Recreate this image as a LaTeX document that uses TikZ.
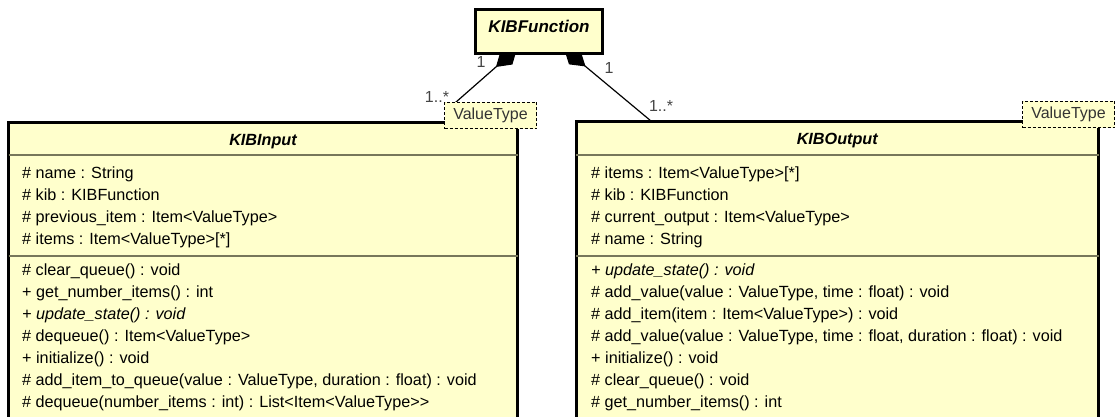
\documentclass[tikz,border=0pt]{standalone}
\usepackage{fontspec}
\setmainfont{Liberation Sans}
\usetikzlibrary{arrows.meta,calc}
\definecolor{clsfill}{HTML}{FFFFCC}
\definecolor{sepcol}{HTML}{77775A}
\definecolor{lblcol}{HTML}{444444}
\pgfdeclarelayer{background}
\pgfsetlayers{background,main}
\begin{document}
\begin{tikzpicture}[x=1pt,y=-1pt,
  classbox/.style={draw=black,line width=3pt,fill=clsfill,anchor=north west,
    inner sep=0pt,outer sep=0pt},
  sepline/.style={draw=sepcol,line width=1.6pt},
  member/.style={anchor=base west,inner sep=0pt,font=\fontsize{16.2}{19}\selectfont},
  title/.style={anchor=base,inner sep=0pt,font=\fontsize{16.2}{19}\selectfont\bfseries\itshape},
  tparam/.style={draw=black,dash pattern=on 3pt off 2pt,line width=0.9pt,fill=clsfill,
    anchor=north west,inner sep=0pt,outer sep=0pt,minimum width=92pt,minimum height=26pt,
    text=black!80,font=\fontsize{16}{18}\selectfont},
  mult/.style={inner sep=0pt,text=lblcol,font=\fontsize{16}{18}\selectfont},
  comp/.style={draw=black,line width=1.2pt,{Diamond[length=28pt,width=18pt,fill=black]}-}
]
\useasboundingbox (0,0) rectangle (1115,417);
\begin{scope}
\clip (0,0) rectangle (1115,417);

% owner class
\node[classbox,minimum width=127pt,minimum height=44pt] (fn) at (475.5,9.5) {};
\node[title,font=\fontsize{17}{19}\selectfont\bfseries\itshape] (fn-t) at ($(fn.north)+(0,23.5)$) {KIBFunction};

% KIBInput
\node[classbox,minimum width=509pt,minimum height=320pt] (in) at (8.5,122.5) {};
\node[title] (in-t) at ($(in.north)+(0,22.5)$) {KIBInput};
\draw[sepline] ($(in.north west)+(0,32.5)$) -- ($(in.north east)+(0,32.5)$);
\draw[sepline] ($(in.north west)+(0,133.5)$) -- ($(in.north east)+(0,133.5)$);
\foreach \t [count=\i] in {
  {\# name : String},
  {\# kib : KIBFunction},
  {\# previous\_item : Item<ValueType>},
  {\# items : Item<ValueType>[*]}}
  \node[member] (in-a\i) at ($(in.north west)+(13.5,56+22*\i-22)$) {\t};
\foreach \t [count=\i] in {
  {\# clear\_queue() : void},
  {+ get\_number\_items() : int},
  {\itshape + update\_state() : void},
  {\# dequeue() : Item<ValueType>},
  {+ initialize() : void},
  {\# add\_item\_to\_queue(value : ValueType, duration : float) : void},
  {\# dequeue(number\_items : int) : List<Item<ValueType>{}>}}
  \node[member] (in-m\i) at ($(in.north west)+(13.5,152.5+22*\i-22)$) {\t};

% KIBOutput
\node[classbox,minimum width=522.5pt,minimum height=320pt] (out) at (576,121) {};
\node[title] (out-t) at ($(out.north)+(0,23.5)$) {KIBOutput};
\draw[sepline] ($(out.north west)+(0,34)$) -- ($(out.north east)+(0,34)$);
\draw[sepline] ($(out.north west)+(0,135)$) -- ($(out.north east)+(0,135)$);
\foreach \t [count=\i] in {
  {\# items : Item<ValueType>[*]},
  {\# kib : KIBFunction},
  {\# current\_output : Item<ValueType>},
  {\# name : String}}
  \node[member] (out-a\i) at ($(out.north west)+(15,57.5+22*\i-22)$) {\t};
\foreach \t [count=\i] in {
  {\itshape + update\_state() : void},
  {\# add\_value(value : ValueType, time : float) : void},
  {\# add\_item(item : Item<ValueType>) : void},
  {\# add\_value(value : ValueType, time : float, duration : float) : void},
  {+ initialize() : void},
  {\# clear\_queue() : void},
  {\# get\_number\_items() : int}}
  \node[member] (out-m\i) at ($(out.north west)+(15,154+22*\i-22)$) {\t};

% template parameters
\node[tparam] (vtin) at (444.5,102.5) {ValueType};
\node[tparam] (vtout) at (1022.5,101.5) {ValueType};

% compositions, kept beneath the owner box
\begin{pgfonlayer}{background}
\draw[comp] ($(fn.south)+(-22,-5)$) -- ($(vtin.north west)+(11,0)$);
\draw[comp] ($(fn.south)+(25,-5)$) -- ($(out.north west)+(75,0)$);
\end{pgfonlayer}

% multiplicities
\node[mult] (m1) at (481,62) {1};
\node[mult] (m2) at (437,97) {1..*};
\node[mult] (m3) at (609,68) {1};
\node[mult] (m4) at (661,106) {1..*};
\end{scope}
\end{tikzpicture}
\end{document}
